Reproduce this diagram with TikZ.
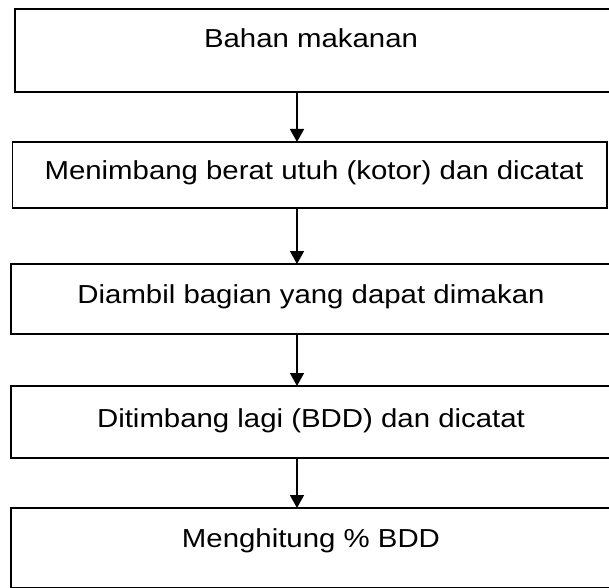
\documentclass[tikz,border=0pt]{standalone}
\usepackage{fontspec}
\setmainfont{Liberation Sans}[FakeStretch=1.13]
\usetikzlibrary{arrows.meta}
\begin{document}
\begin{tikzpicture}[x=1pt,y=1pt,
  box/.style={draw=black, line width=1.6pt, inner sep=0pt, outer sep=0pt, rectangle},
  lbl/.style={anchor=base, inner sep=0pt, font=\fontsize{26}{31}\selectfont},
  arr/.style={line width=1.6pt, -{Triangle[width=14pt,length=13pt]}}]
\useasboundingbox (0,0) rectangle (609,587);
\clip (0,0) rectangle (609,587);
\node[box, minimum width=597pt, minimum height=83pt] (b1) at (313.5,536.5) {};
\node[box, minimum width=594.5pt, minimum height=66pt] (b2) at (309.75,412) {};
\node[box, minimum width=601pt, minimum height=70pt] (b3) at (311.5,288) {};
\node[box, minimum width=601pt, minimum height=72pt] (b4) at (311.5,165) {};
\node[box, minimum width=601pt, minimum height=80pt] (b5) at (311.5,39) {};
\node[lbl] (t1) at (311,539) {Bahan makanan};
\node[lbl] (t2) at (314,407) {Menimbang berat utuh (kotor) dan dicatat};
\node[lbl] (t3) at (311,284) {Diambil bagian yang dapat dimakan};
\node[lbl] (t4) at (311,160) {Ditimbang lagi (BDD) dan dicatat};
\node[lbl] (t5) at (311,40) {Menghitung \% BDD};
\coordinate (ax) at (297,0);
\draw[arr] (b1.south -| ax) -- (b2.north -| ax);
\draw[arr] (b2.south -| ax) -- (b3.north -| ax);
\draw[arr] (b3.south -| ax) -- (b4.north -| ax);
\draw[arr] (b4.south -| ax) -- (b5.north -| ax);
\end{tikzpicture}
\end{document}
